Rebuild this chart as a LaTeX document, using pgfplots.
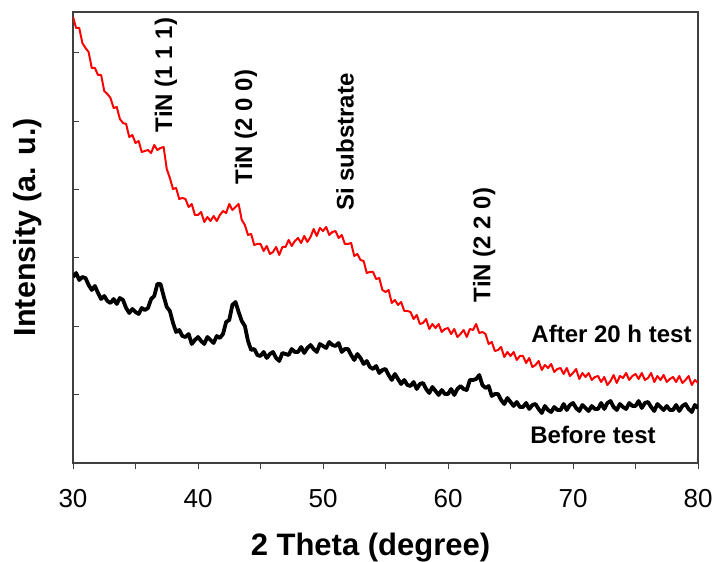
\documentclass[border=0pt]{standalone}
\usepackage{pgfplots}
\pgfplotsset{compat=1.18}
\usepackage{fontspec}
\setmainfont{Liberation Sans}
\definecolor{axgray}{RGB}{64,64,64}

\begin{document}
\begin{tikzpicture}
\begin{axis}[
  scale only axis,
  width=625pt, height=451pt,
  xmin=30, xmax=80, ymin=0, ymax=451,
  axis line style={axgray, line width=1.3pt},
  xtick={30,35,...,80},
  xticklabels={30,,40,,50,,60,,70,,80},
  xtick pos=bottom, ytick pos=left,
  xtick align=outside, ytick align=inside,
  major tick length=6pt,
  tick style={axgray, line width=1pt},
  ytick={68.3,136.7,205,273.3,341.7,410},
  yticklabels={},
  xticklabel shift=17pt,
  ticklabel style={font=\fontsize{26}{28}\selectfont},
  /pgf/number format/assume math mode=true,
  xlabel={\bfseries 2 Theta (degree)},
  ylabel={\bfseries Intensity (a. u.)},
  xlabel style={font=\fontsize{31}{33}\selectfont, at={(axis description cs:0.476,-0.188)}, anchor=center},
  ylabel style={font=\fontsize{30.5}{32}\selectfont, at={(axis description cs:-0.072,0.523)}, anchor=center, rotate=0},
  clip=true,
]
\addplot[red, line width=2pt, line join=round] table {
30.00 446
30.25 435
30.50 435
30.75 420
31.00 415
31.25 411
31.50 395
31.75 395
32.00 388
32.25 388
32.50 372
32.75 369
33.00 365
33.25 355
33.50 356
33.75 344
34.00 340
34.25 339
34.50 326
34.75 328
35.00 320
35.25 322
35.50 311
35.75 312
36.00 313
36.25 310
36.50 318
36.75 313
37.00 315
37.25 316
37.50 294
37.75 285
38.00 274
38.25 275
38.50 264
38.75 265
39.00 264
39.25 256
39.50 259
39.75 248
40.00 248
40.25 251
40.50 241
40.75 246
41.00 242
41.25 247
41.50 242
41.75 248
42.00 252
42.25 250
42.50 259
42.75 253
43.00 256
43.25 259
43.50 243
43.75 238
44.00 228
44.25 229
44.50 218
44.75 219
45.00 219
45.25 212
45.50 217
45.75 209
46.00 211
46.25 216
46.50 208
46.75 216
47.00 216
47.25 223
47.50 217
47.75 222
48.00 225
48.25 220
48.50 227
48.75 221
49.00 226
49.25 234
49.50 227
49.75 235
50.00 232
50.25 236
50.50 228
50.75 231
51.00 232
51.25 225
51.50 228
51.75 219
52.00 219
52.25 220
52.50 207
52.75 209
53.00 203
53.25 202
53.50 190
53.75 191
54.00 191
54.25 184
54.50 185
54.75 173
55.00 171
55.25 173
55.50 160
55.75 163
56.00 158
56.25 161
56.50 152
56.75 152
57.00 151
57.25 144
57.50 148
57.75 139
58.00 140
58.25 144
58.50 134
58.75 139
59.00 135
59.25 139
59.50 131
59.75 134
60.00 135
60.25 129
60.50 134
60.75 126
61.00 129
61.25 133
61.50 126
61.75 134
62.00 133
62.25 139
62.50 130
62.75 131
63.00 129
63.25 119
63.50 121
63.75 112
64.00 113
64.25 116
64.50 106
64.75 111
65.00 107
65.25 111
65.50 103
65.75 107
66.00 107
66.25 100
66.50 105
66.75 96
67.00 98
67.25 102
67.50 93
67.75 98
68.00 95
68.25 99
68.50 91
68.75 94
69.00 95
69.25 89
69.50 95
69.75 87
70.00 90
70.25 94
70.50 84
70.75 90
71.00 86
71.25 90
71.50 83
71.75 86
72.00 87
72.25 81
72.50 86
72.75 78
73.00 82
73.25 88
73.50 80
73.75 87
74.00 85
74.25 90
74.50 83
74.75 87
75.00 89
75.25 84
75.50 90
75.75 83
76.00 85
76.25 90
76.50 81
76.75 87
77.00 83
77.25 88
77.50 81
77.75 84
78.00 86
78.25 81
78.50 87
78.75 80
79.00 83
79.25 87
79.50 78
79.75 83
80.00 80
};
\addplot[black, line width=3.8pt, line join=round] table {
30.00 186
30.25 190
30.50 183
30.75 186
31.00 185
31.25 178
31.50 173
31.75 177
32.00 170
32.25 164
32.50 167
32.75 162
33.00 160
33.25 164
33.50 159
33.75 165
34.00 163
34.25 155
34.50 150
34.75 154
35.00 151
35.25 149
35.50 155
35.75 153
36.00 155
36.25 164
36.50 167
36.75 179
37.00 179
37.25 167
37.50 156
37.75 152
38.00 140
38.25 131
38.50 133
38.75 127
39.00 126
39.25 129
39.50 119
39.75 123
40.00 126
40.25 122
40.50 119
40.75 126
41.00 123
41.25 120
41.50 127
41.75 125
42.00 129
42.25 141
42.50 143
42.75 158
43.00 161
43.25 151
43.50 142
43.75 137
44.00 122
44.25 113
44.50 114
44.75 108
45.00 107
45.25 111
45.50 105
45.75 109
46.00 111
46.25 105
46.50 102
46.75 110
47.00 109
47.25 108
47.50 114
47.75 111
48.00 111
48.25 116
48.50 110
48.75 115
49.00 118
49.25 114
49.50 111
49.75 119
50.00 117
50.25 115
50.50 121
50.75 118
51.00 117
51.25 120
51.50 111
51.75 114
52.00 114
52.25 108
52.50 103
52.75 109
53.00 105
53.25 99
53.50 102
53.75 96
54.00 94
54.25 97
54.50 90
54.75 93
55.00 94
55.25 88
55.50 83
55.75 89
56.00 84
56.25 79
56.50 83
56.75 78
57.00 77
57.25 81
57.50 74
57.75 79
58.00 80
58.25 74
58.50 70
58.75 76
59.00 72
59.25 68
59.50 73
59.75 69
60.00 69
60.25 74
60.50 68
60.75 74
61.00 77
61.25 74
61.50 73
61.75 83
62.00 83
62.25 84
62.50 88
62.75 78
63.00 75
63.25 77
63.50 67
63.75 69
64.00 69
64.25 63
64.50 59
64.75 65
65.00 61
65.25 57
65.50 61
65.75 56
66.00 56
66.25 60
66.50 54
66.75 58
67.00 59
67.25 54
67.50 50
67.75 57
68.00 53
68.25 51
68.50 56
68.75 53
69.00 53
69.25 59
69.50 53
69.75 58
70.00 60
70.25 55
70.50 52
70.75 58
71.00 55
71.25 52
71.50 57
71.75 54
72.00 54
72.25 60
72.50 54
72.75 60
73.00 62
73.25 56
73.50 53
73.75 59
74.00 56
74.25 54
74.50 60
74.75 57
75.00 57
75.25 62
75.50 55
75.75 60
76.00 61
76.25 56
76.50 52
76.75 59
77.00 56
77.25 53
77.50 57
77.75 53
78.00 53
78.25 58
78.50 52
78.75 57
79.00 59
79.25 54
79.50 51
79.75 58
80.00 55
};
\begin{scope}[every node/.style={font=\fontsize{24}{26}\selectfont\bfseries, inner sep=0pt}]
\node[rotate=90] at (axis cs:37.44,388) {TiN (1 1 1)};
\node[rotate=90] at (axis cs:43.84,336) {TiN (2 0 0)};
\node[rotate=90] at (axis cs:51.76,321) {Si substrate};
\node[rotate=90] at (axis cs:62.9,218) {TiN (2 2 0)};
\node at (axis cs:73.08,129) {After 20 h test};
\node at (axis cs:71.6,28) {Before test};
\end{scope}
\coordinate (bl) at (rel axis cs:-0.1168,-0.2195);
\coordinate (tr) at (rel axis cs:1.0288,1.0266);
\end{axis}
\pgfresetboundingbox
\path[use as bounding box] (bl) rectangle (tr);
\end{tikzpicture}
\end{document}
